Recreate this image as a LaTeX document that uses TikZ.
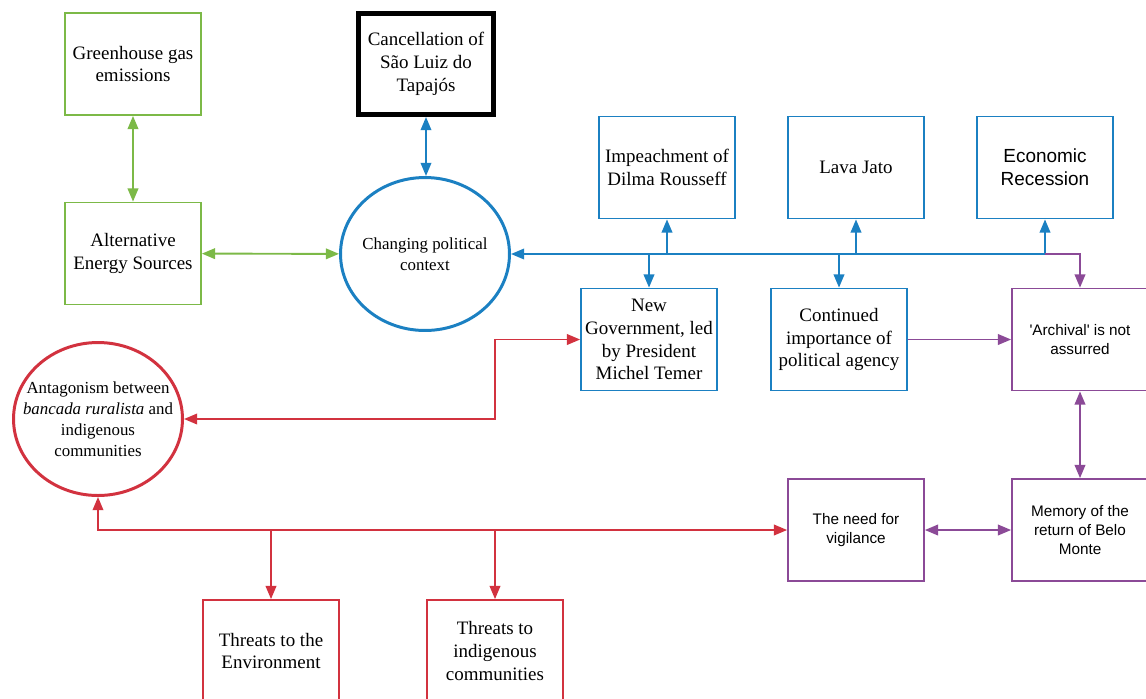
\documentclass[tikz,border=0pt]{standalone}
\usepackage{fontspec}
\setmainfont{Liberation Serif}
\setsansfont{Liberation Sans}
\usetikzlibrary{shapes.geometric,arrows.meta}
\definecolor{grn}{RGB}{124,185,71}
\definecolor{blu}{RGB}{27,128,194}
\definecolor{rd}{RGB}{210,50,63}
\definecolor{prp}{RGB}{139,74,151}

\tikzset{
  box/.style={draw,rectangle,minimum width=2.72cm,minimum height=2.04cm,inner sep=1pt,
    align=center,line width=1pt,font=\fontsize{10.8}{13}\selectfont},
  sbox/.style={box,font=\sffamily\fontsize{8.7}{10.7}\selectfont},
  oval/.style={draw,ellipse,minimum width=3.38cm,minimum height=3.06cm,inner sep=0pt,
    line width=1.7pt},
  ovaltext/.style={align=center,text=black,font=\fontsize{9.6}{12}\selectfont},
  link/.style={line width=1.1pt},
}

\begin{document}
\begin{tikzpicture}[x=0.02cm,y=-0.02cm,>={Triangle[length=7.5pt,width=6pt]}]
  \useasboundingbox (0,0) rectangle (1146,698);

  \node[box,grn] (ghg) at (133,64) {\color{black}Greenhouse gas\\\color{black}emissions};
  \node[box,grn] (altenergy) at (133,253.5) {\color{black}Alternative\\\color{black}Energy Sources};
  \node[box,line width=2.83pt,minimum width=2.7cm,minimum height=2.02cm] (cancel) at (426,64)
    {Cancellation of\\São Luiz do\\Tapajós};
  \node[oval,blu,label={[ovaltext]center:Changing political\\context}] (context) at (425,254) {};

  \node[box,blu] (impeach) at (667,167.5) {\color{black}Impeachment of\\\color{black}Dilma Rousseff};
  \node[box,blu] (lavajato) at (856,167.5) {\color{black}Lava Jato};
  \node[box,blu,font=\sffamily\fontsize{10.8}{13}\selectfont] (recession) at (1045,167.5)
    {\color{black}Economic\\\color{black}Recession};
  \node[box,blu] (newgov) at (649,339.5)
    {\color{black}New\\\color{black}Government, led\\\color{black}by President\\\color{black}Michel Temer};
  \node[box,blu] (agency) at (839,339.5)
    {\color{black}Continued\\\color{black}importance of\\\color{black}political agency};

  \node[sbox,prp] (archival) at (1080,339.5)
    {\color{black}\textquotesingle Archival\textquotesingle{} is not\\\color{black}assurred};
  \node[sbox,prp] (memory) at (1080,530)
    {\color{black}Memory of the\\\color{black}return of Belo\\\color{black}Monte};
  \node[sbox,prp] (vigil) at (856,530) {\color{black}The need for\\\color{black}vigilance};

  \node[oval,rd,label={[ovaltext]center:Antagonism between\\\textit{bancada ruralista} and\\indigenous\\communities}]
    (antag) at (98,419) {};
  \node[box,rd] (threnv) at (271,651) {\color{black}Threats to the\\\color{black}Environment};
  \node[box,rd] (thrind) at (495,651) {\color{black}Threats to\\\color{black}indigenous\\\color{black}communities};

  % green
  \draw[link,grn,<->] (ghg) -- (altenergy);
  \draw[link,grn,<->] (altenergy) -- (context);

  % blue
  \draw[link,blu,<->] (cancel.south) -- (cancel.south |- context.north);
  \draw[link,blu,->] (recession.south |- context.east) -- (context.east);
  \draw[link,blu,->] (impeach.south |- context.east) -- (impeach.south);
  \draw[link,blu,->] (lavajato.south |- context.east) -- (lavajato.south);
  \draw[link,blu,->] (recession.south |- context.east) -- (recession.south);
  \draw[link,blu,->] (newgov.north |- context.east) -- (newgov.north);
  \draw[link,blu,->] (agency.north |- context.east) -- (agency.north);

  % purple
  \draw[link,prp,->] (recession.south |- context.east) -| (archival.north);
  \draw[link,prp,->] (agency) -- (archival);
  \draw[link,prp,<->] (archival) -- (memory);
  \draw[link,prp,<->] (vigil) -- (memory);

  % red
  \draw[link,rd,<->] (antag.east) -| (thrind.north |- newgov.west) -- (newgov.west);
  \draw[link,rd,<->] (antag.south) |- (vigil.west);
  \draw[link,rd,->] (threnv.north |- vigil.west) -- (threnv.north);
  \draw[link,rd,->] (thrind.north |- vigil.west) -- (thrind.north);
\end{tikzpicture}
\end{document}
